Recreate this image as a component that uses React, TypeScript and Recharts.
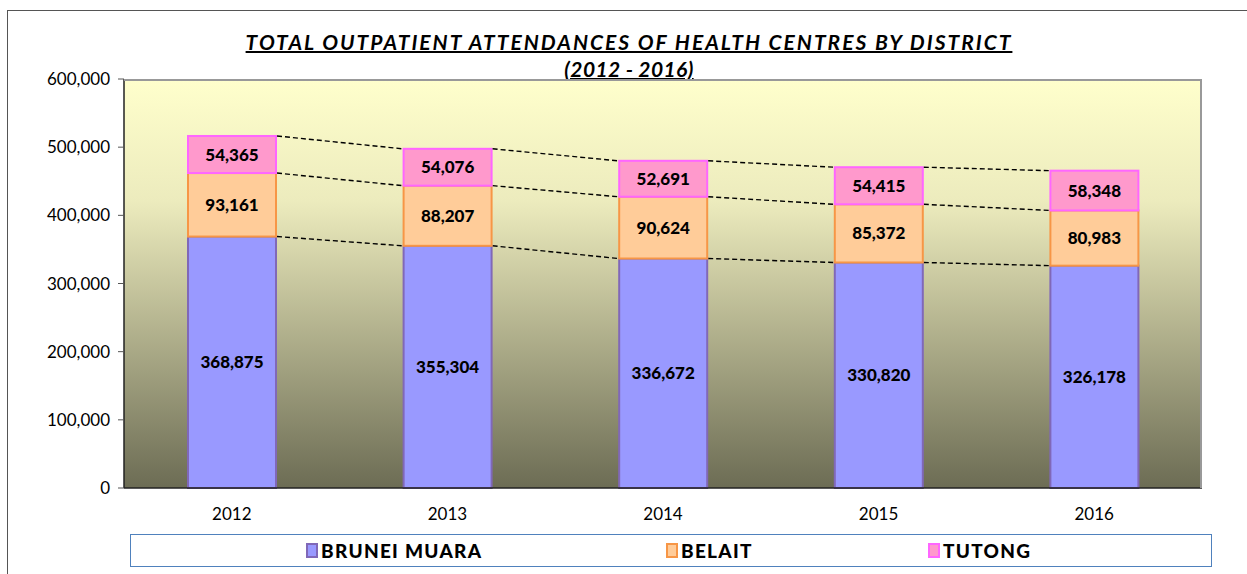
import { BarChart, Bar, XAxis, YAxis, CartesianGrid, LabelList, Legend } from 'recharts';

const years = ['2012', '2013', '2014', '2015', '2016'];
const bruneiMuara = [368875, 355304, 336672, 330820, 326178];
const belait = [93161, 88207, 90624, 85372, 80983];
const tutong = [54365, 54076, 52691, 54415, 58348];
const yTicks = [0, 100000, 200000, 300000, 400000, 500000, 600000];

const seriesInfo = [
  { key: 'bruneiMuara', name: 'BRUNEI MUARA', values: bruneiMuara, fill: '#9999ff', stroke: '#8068b8' },
  { key: 'belait', name: 'BELAIT', values: belait, fill: '#ffcc99', stroke: '#f79646' },
  { key: 'tutong', name: 'TUTONG', values: tutong, fill: '#ff99cc', stroke: '#ff66ff' },
];

const data = years.map((year, i) => ({
  year,
  bruneiMuara: bruneiMuara[i],
  belait: belait[i],
  tutong: tutong[i],
}));

// cumulative top of each stacked series, for the dashed connectors
const tops = seriesInfo.map((_, k) =>
  years.map((_, i) => seriesInfo.slice(0, k + 1).reduce((s, si) => s + si.values[i], 0))
);

const W = 1247;
const H = 574;
const margin = { top: 79, right: 45, left: 0, bottom: 56 };
const yAxisWidth = 124;
const plotW = W - margin.left - margin.right - yAxisWidth;
const step = plotW / years.length;
const font = 'Lato, "Open Sans", sans-serif';

const makeShape = (k: number) => (props: any) => {
  const { x, y, width, height, index } = props;
  const s = seriesInfo[k];
  const value = s.values[index];
  const ppu = height / value;
  let connector = null;
  if (index < years.length - 1) {
    const yNext = y + (tops[k][index] - tops[k][index + 1]) * ppu;
    connector = (
      <line
        x1={x + width + 1}
        y1={y}
        x2={x + step - 1}
        y2={yNext}
        stroke="#000"
        strokeWidth={1.4}
        strokeDasharray="5 3"
      />
    );
  }
  return (
    <g>
      <rect x={x} y={y} width={width} height={height} fill={s.fill} stroke={s.stroke} strokeWidth={2} />
      {connector}
    </g>
  );
};

const fmt = (v: any) => Number(v).toLocaleString('en-US');

const LegendBox = () => (
  <div
    style={{
      position: 'absolute',
      left: 130,
      top: 534,
      width: 1082,
      height: 33,
      border: '1px solid #4f81bd',
      background: '#fff',
      boxSizing: 'border-box',
      fontFamily: font,
    }}
  >
    {seriesInfo.map((s, i) => (
      <div
        key={s.key}
        style={{
          position: 'absolute',
          left: [175, 535, 797][i],
          top: 4,
          display: 'flex',
          alignItems: 'center',
          fontWeight: 900,
          fontSize: 19,
          letterSpacing: 1.3,
          color: '#000',
        }}
      >
        <span
          style={{
            display: 'inline-block',
            width: 8,
            height: 11,
            background: s.fill,
            border: `2px solid ${s.stroke}`,
            marginRight: 3,
          }}
        />
        {s.name}
      </div>
    ))}
  </div>
);

export default function App() {
  return (
    <div style={{ position: 'absolute', left: 0, top: 0, width: W, height: H, background: '#fff', overflow: 'hidden' }}>
      <div
        style={{
          position: 'absolute',
          left: 7,
          top: 10,
          width: W,
          height: H,
          borderLeft: '1.5px solid #555',
          borderTop: '1.5px solid #555',
        }}
      />
      <div
        style={{
          position: 'absolute',
          left: 0,
          top: 28,
          width: 1258,
          textAlign: 'center',
          fontFamily: font,
          fontWeight: 700,
          fontStyle: 'italic',
          fontSize: 21,
          lineHeight: '27px',
          textDecoration: 'underline',
          textDecorationThickness: 2,
          color: '#000',
        }}
      >
        <span style={{ letterSpacing: 2 }}>TOTAL OUTPATIENT ATTENDANCES OF HEALTH CENTRES BY DISTRICT</span>
        <br />
        <span style={{ letterSpacing: 0.4 }}>(2012 - 2016)</span>
      </div>
      <div style={{ position: 'absolute', left: 0, top: 0 }}>
        <BarChart width={W} height={H} data={data} margin={margin} barSize={88}>
          <defs>
            <linearGradient id="plotBg" x1="0" y1="0" x2="0" y2="1">
              <stop offset="0%" stopColor="#ffffcc" />
              <stop offset="30%" stopColor="#ecebbd" />
              <stop offset="100%" stopColor="#6c6c54" />
            </linearGradient>
          </defs>
          <CartesianGrid fill="url(#plotBg)" stroke="none" horizontal={false} vertical={false} />
          <XAxis
            dataKey="year"
            height={30}
            tickLine={false}
            axisLine={{ stroke: '#222', strokeWidth: 1.5 }}
            tick={{ fill: '#000', fontSize: 17, fontFamily: font }}
            tickMargin={14}
          />
          <YAxis
            width={yAxisWidth}
            domain={[0, 600000]}
            ticks={yTicks}
            tickFormatter={fmt}
            axisLine={{ stroke: '#222', strokeWidth: 1.5 }}
            tickLine={{ stroke: '#555' }}
            tickSize={6}
            tick={{ fill: '#000', fontSize: 17, fontFamily: font }}
            tickMargin={8}
          />
          {seriesInfo.map((s, k) => (
            <Bar
              key={s.key}
              dataKey={s.key}
              name={s.name}
              stackId="a"
              fill={s.fill}
              stroke={s.stroke}
              shape={makeShape(k)}
              isAnimationActive={false}
            >
              <LabelList
                dataKey={s.key}
                position="center"
                formatter={fmt}
                style={{ fill: '#000', fontSize: 17, fontWeight: 900, fontFamily: font }}
              />
            </Bar>
          ))}
          <Legend content={() => null} />
        </BarChart>
      </div>
      <div
        style={{
          position: 'absolute',
          left: 124,
          top: 79,
          width: 1078,
          height: 409,
          borderTop: '2px solid #999',
          borderRight: '2px solid #999',
          boxSizing: 'border-box',
          pointerEvents: 'none',
        }}
      />
      <LegendBox />
    </div>
  );
}
